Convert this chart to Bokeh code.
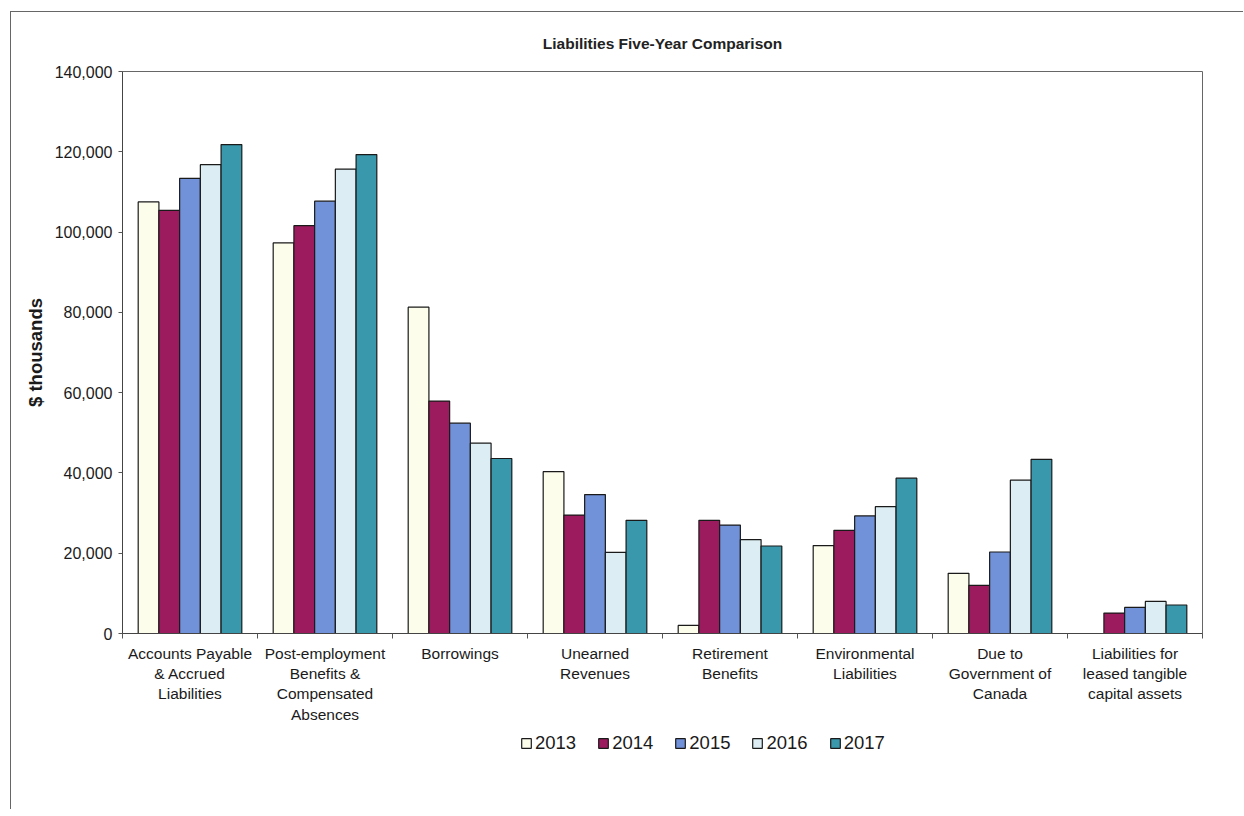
from bokeh.plotting import figure
from bokeh.layouts import column
from bokeh.models import (ColumnDataSource, Range1d, FixedTicker, NumeralTickFormatter,
                          Legend, LegendItem)
from bokeh.transform import dodge
from bokeh.embed import file_html
from bokeh.resources import INLINE

categories = [
    "Accounts Payable\n& Accrued\nLiabilities",
    "Post-employment\nBenefits &\nCompensated\nAbsences",
    "Borrowings",
    "Unearned\nRevenues",
    "Retirement\nBenefits",
    "Environmental\nLiabilities",
    "Due to\nGovernment of\nCanada",
    "Liabilities for\nleased tangible\ncapital assets",
]
years = ["2013", "2014", "2015", "2016", "2017"]
v2013 = [107500, 97300, 81300, 40300, 2000, 21900, 15000, float("nan")]
v2014 = [105400, 101600, 57900, 29500, 28200, 25700, 12000, 5100]
v2015 = [113400, 107700, 52400, 34600, 27000, 29300, 20300, 6500]
v2016 = [116800, 115700, 47400, 20200, 23400, 31600, 38200, 8000]
v2017 = [121800, 119300, 43600, 28200, 21800, 38700, 43400, 7100]
series = [v2013, v2014, v2015, v2016, v2017]
colors = ["#FDFDEC", "#9C1B5F", "#7191D8", "#DCEEF3", "#3A98AD"]
y_ticks = [0, 20000, 40000, 60000, 80000, 100000, 120000, 140000]

FONT = "Liberation Sans"

p = figure(frame_width=1080, frame_height=562, output_backend="svg", toolbar_location=None,
           x_range=Range1d(0, len(categories)), y_range=Range1d(0, 140000),
           title="Liabilities Five-Year Comparison",
           min_border_left=111, min_border_top=59, min_border_right=41, min_border_bottom=100)

p.title.align = "center"
p.title.vertical_align = "middle"
p.title.text_font = FONT
p.title.text_font_size = "15.5px"
p.title.text_font_style = "bold"
p.title.text_color = "#222222"
p.title.offset = 0
p.title.standoff = 38

p.outline_line_color = "#666666"
p.outline_line_width = 1
p.xgrid.visible = False
p.ygrid.visible = False
p.background_fill_color = "white"
p.border_fill_color = "white"

centers = [i + 0.5 for i in range(len(categories))]
bw = 0.1535
for k, (yr, vals, col) in enumerate(zip(years, series, colors)):
    src = ColumnDataSource(dict(x=centers, top=vals))
    p.vbar(x=dodge("x", (k - 2) * bw, range=p.x_range), top="top", width=bw,
           source=src, fill_color=col, line_color="#1a1a1a", line_width=1.2)

# x axis: labels at centres, ticks at group boundaries
xa = p.xaxis[0]
xa.ticker = FixedTicker(ticks=centers, minor_ticks=list(range(len(categories) + 1)))
xa.major_label_overrides = {c: lab for c, lab in zip(centers, categories)}
xa.major_tick_out = 0
xa.major_tick_in = 0
xa.minor_tick_out = 5
xa.minor_tick_in = 0
xa.minor_tick_line_color = "#555555"
xa.axis_line_color = "#444444"
xa.major_label_text_font = FONT
xa.major_label_text_font_size = "15.5px"
xa.major_label_text_color = "#1a1a1a"
xa.major_label_standoff = 6
xa.major_label_text_line_height = 1.2

ya = p.yaxis[0]
ya.ticker = FixedTicker(ticks=y_ticks)
ya.formatter = NumeralTickFormatter(format="0,0")
ya.minor_tick_line_color = None
ya.major_tick_out = 4
ya.major_tick_in = 0
ya.major_tick_line_color = "#555555"
ya.axis_line_color = "#444444"
ya.major_label_text_font = FONT
ya.major_label_text_font_size = "16px"
ya.major_label_text_color = "#1a1a1a"
ya.major_label_standoff = 6
ya.axis_label = "$ thousands"
ya.axis_label_text_font = FONT
ya.axis_label_text_font_size = "18.5px"
ya.axis_label_text_font_style = "bold"
ya.axis_label_text_color = "#1a1a1a"
ya.axis_label_standoff = 6

# legend strip below the chart (keys drawn with the same series styles)
pl = figure(frame_width=1080, frame_height=22, output_backend="svg", toolbar_location=None,
            x_range=Range1d(0, 1), y_range=Range1d(0, 1),
            min_border_left=111, min_border_right=41, min_border_top=0, min_border_bottom=54,
            x_axis_type=None, y_axis_type=None)
pl.outline_line_color = None
pl.xgrid.visible = False
pl.ygrid.visible = False
items = []
nan = float("nan")
for yr, col in zip(years, colors):
    # key renderer holds a single undefined point: nothing is drawn, only its legend swatch
    r = pl.vbar(x=[nan], top=[nan], width=0.1, fill_color=col, line_color="#1a1a1a",
                line_width=1.2)
    items.append(LegendItem(label=yr, renderers=[r], index=0))
legend = Legend(items=items, orientation="horizontal", location=(398, 1),
                glyph_width=12, glyph_height=12, label_standoff=3, spacing=21,
                padding=0, margin=0, border_line_color=None, background_fill_alpha=0,
                label_text_font=FONT, label_text_font_size="18.5px",
                label_text_color="#1a1a1a", label_height=20)
pl.add_layout(legend, "center")

layout = column(p, pl, spacing=0,
                styles={"margin-left": "10px", "margin-top": "11px",
                        "border-left": "1px solid #666", "border-top": "1px solid #666"})

open("out.html", "w").write(file_html(layout, INLINE))
